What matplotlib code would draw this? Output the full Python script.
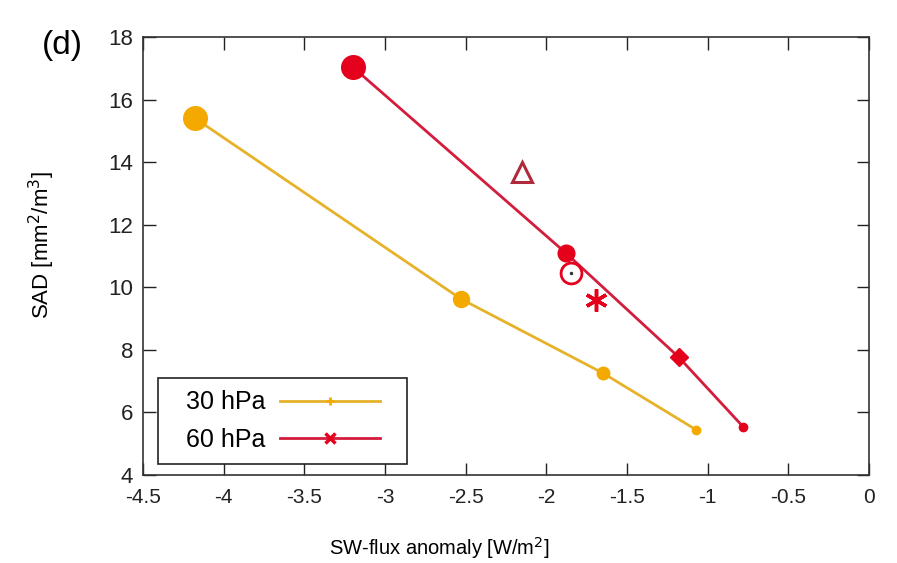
import matplotlib
matplotlib.use('Agg')
import matplotlib.pyplot as plt
from matplotlib.lines import Line2D
from matplotlib.patches import Rectangle

# SW-flux anomaly vs SAD for the two injection heights
x30 = [-4.18, -2.53, -1.65, -1.07]
y30 = [15.41, 9.63, 7.26, 5.44]
x60 = [-3.20, -1.88, -1.18, -0.78]
y60 = [17.04, 11.10, 7.77, 5.54]

# single-point sensitivity runs at 60 hPa
x_tri, y_tri = -2.15, 13.69
x_circ, y_circ = -1.85, 10.46
x_star, y_star = -1.69, 9.59

xticks = [-4.5, -4, -3.5, -3, -2.5, -2, -1.5, -1, -0.5, 0]
yticks = [4, 6, 8, 10, 12, 14, 16, 18]

ms30 = [17, 11.5, 9, 6]
ms60 = [17, 12, 9, 6]
mk60 = ['o', 'o', 'D', 'o']

c_orange = '#f4a900'
c_orange_line = '#e6b22a'
c_red = '#e5001c'
c_red_line = '#d41c3c'

plt.rcParams['font.family'] = 'Liberation Sans'

fig = plt.figure(figsize=(8.97, 5.63), dpi=100)
ax = fig.add_axes([0.1594, 0.1563, 0.8094, 0.778])

ax.plot(x30, y30, '-', color=c_orange_line, lw=2, zorder=2)
ax.plot(x60, y60, '-', color=c_red_line, lw=2, zorder=2)
for xi, yi, s in zip(x30, y30, ms30):
    ax.plot(xi, yi, 'o', color=c_orange, ms=s, mec=c_orange, zorder=3)
for xi, yi, s, m in zip(x60, y60, ms60, mk60):
    ax.plot(xi, yi, m, color=c_red, ms=s, mec=c_red, zorder=3)

ax.plot(x_tri, y_tri, '^', mfc='none', mec='#b02a3c', mew=2.2, ms=15, zorder=4)
ax.plot(x_circ, y_circ, 'o', mfc='white', mec=c_red, mew=2, ms=15, zorder=4)
ax.plot(x_circ, y_circ, '.', color='#333333', ms=3, zorder=5)
ax.plot(x_star, y_star, marker=(6, 2, 0), color=c_red, mew=2.5, ms=16, zorder=4)

ax.set_xlim(-4.5, 0)
ax.set_ylim(4, 18)
ax.set_xticks(xticks)
ax.set_xticklabels(['%g' % t for t in xticks])
ax.set_yticks(yticks)
ax.tick_params(direction='in', length=9, width=1, top=True, right=True,
               colors='#222222')
ax.tick_params(axis='x', labelsize=15, pad=9)
ax.tick_params(axis='y', labelsize=16, pad=7)
for sp in ax.spines.values():
    sp.set_linewidth(1.2)
    sp.set_color('#333333')

ax.set_xlabel('SW-flux anomaly [W/m$^2$]', fontsize=14.5)
ax.xaxis.set_label_coords(0.408, -0.137)
ax.set_ylabel('SAD [mm$^2$/m$^3$]', fontsize=16)
ax.yaxis.set_label_coords(-0.118, 0.525)
fig.text(0.047, 0.92, '(d)', fontsize=24, va='center')

# legend frame drawn separately so the horizontal padding can be wider
ax.add_patch(Rectangle((0.0207, 0.025), 0.343, 0.1965, transform=ax.transAxes,
                       fill=True, fc='white', ec='#222222', lw=1.2, zorder=5))
handles = [
    Line2D([], [], color=c_orange_line, lw=2, marker='+', ms=6, mec=c_orange, mew=2),
    Line2D([], [], color=c_red_line, lw=2, marker='x', ms=7, mec=c_red, mew=2.5),
]
leg = ax.legend(handles, ['30 hPa', '60 hPa'], loc='center',
                bbox_to_anchor=(0.193, 0.123), fontsize=18, frameon=False,
                handlelength=4.0, handletextpad=0.6, markerfirst=False,
                borderpad=0.0, labelspacing=0.55, borderaxespad=0.0)
leg.set_zorder(6)

fig.savefig('out.png', dpi=100)
